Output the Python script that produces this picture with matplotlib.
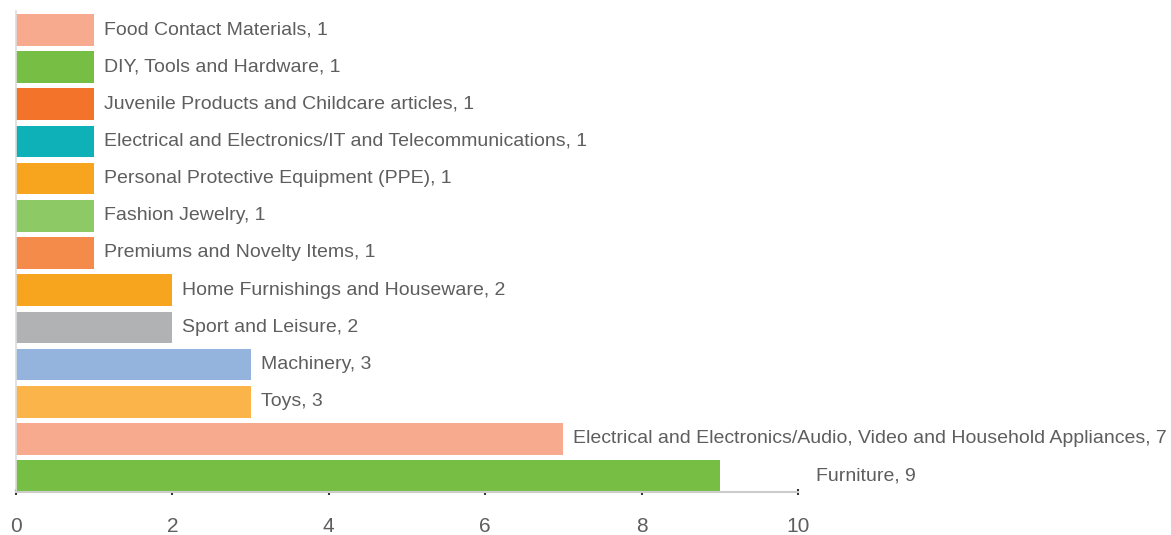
import matplotlib
matplotlib.use("Agg")
import matplotlib.pyplot as plt

categories = [
    "Food Contact Materials",
    "DIY, Tools and Hardware",
    "Juvenile Products and Childcare articles",
    "Electrical and Electronics/IT and Telecommunications",
    "Personal Protective Equipment (PPE)",
    "Fashion Jewelry",
    "Premiums and Novelty Items",
    "Home Furnishings and Houseware",
    "Sport and Leisure",
    "Machinery",
    "Toys",
    "Electrical and Electronics/Audio, Video and Household Appliances",
    "Furniture",
]
values = [1, 1, 1, 1, 1, 1, 1, 2, 2, 3, 3, 7, 9]
colors = ["#F7AA8E", "#76BF44", "#F3732A", "#0DB1B7", "#F7A51F", "#8DC964",
          "#F58B4A", "#F7A51F", "#B1B2B4", "#94B4DE", "#FBB44A", "#F7AA8E",
          "#76BF44"]
xticks = [0, 2, 4, 6, 8, 10]

plt.rcParams['font.family'] = ["Liberation Sans", "DejaVu Sans"]

fig = plt.figure(figsize=(11.71, 5.35), dpi=100)
ax = fig.add_axes([16/1171, 43/535, (798-16)/1171, (524-43)/535])

n = len(categories)
ypos = list(range(n - 1, -1, -1))
bh = 0.85
ax.barh(ypos, values, height=bh, color=colors, zorder=2)

ax.set_xlim(0, 10)
ax.set_ylim(-bh/2, n - 1 + bh/2 + 0.08)

txtcol = "#5e5e5e"
for y, c, v in zip(ypos, categories, values):
    if v >= 9:
        x0, off = 10, 18
    else:
        x0, off = v, 10
    ax.annotate(f"{c}, {v}", xy=(x0, y), xytext=(off, 0), textcoords="offset pixels",
                va="center", ha="left", fontsize=14, color=txtcol,
                annotation_clip=False)

ax.set_xticks(xticks)
ax.set_xticklabels([str(t) for t in xticks])
ax.set_yticks([])
ax.tick_params(axis="x", direction="inout", length=4, width=1.5, color="#333333",
               labelsize=15, labelcolor=txtcol, pad=16)

ax.spines["top"].set_visible(False)
ax.spines["right"].set_visible(False)
ax.spines["left"].set_color("#dddddd")
ax.spines["left"].set_linewidth(1.2)
ax.spines["bottom"].set_color("#cccccc")
ax.spines["bottom"].set_linewidth(1.5)

fig.savefig("out.png", dpi=100)
